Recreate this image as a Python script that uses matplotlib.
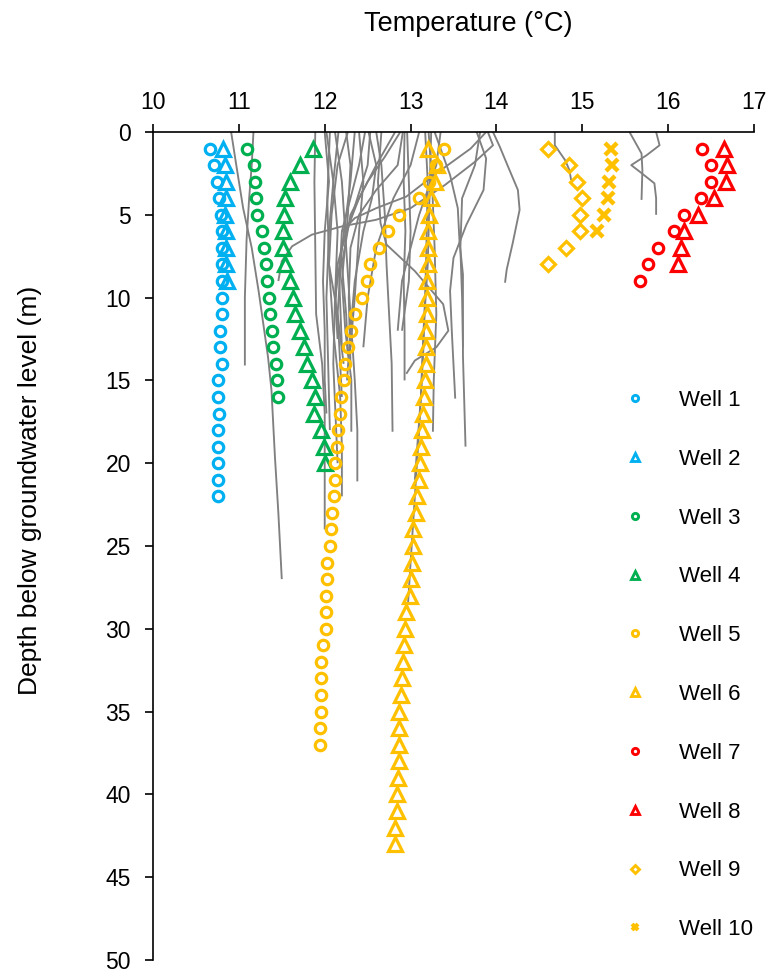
import matplotlib
matplotlib.use("Agg")
import matplotlib.pyplot as plt
from matplotlib.lines import Line2D

plt.rcParams['font.family'] = ['Liberation Sans', 'DejaVu Sans']

# ---------------- data ----------------
depth_m = [1, 2, 3, 4, 5, 6, 7, 8, 9, 10, 11, 12, 13, 14, 15, 16, 17, 18, 19, 20,
           21, 22, 23, 24, 25, 26, 27, 28, 29, 30, 31, 32, 33, 34, 35, 36, 37, 38,
           39, 40, 41, 42, 43]

w1_t = [10.66, 10.71, 10.75, 10.77, 10.79, 10.80, 10.80, 10.80, 10.80, 10.80, 10.80,
        10.78, 10.78, 10.80, 10.76, 10.76, 10.77, 10.76, 10.76, 10.76, 10.76, 10.76]
w2_t = [10.81, 10.84, 10.85, 10.85, 10.84, 10.85, 10.85, 10.85, 10.86]
w3_t = [11.10, 11.18, 11.19, 11.20, 11.21, 11.27, 11.29, 11.32, 11.33, 11.35, 11.36,
        11.39, 11.40, 11.43, 11.45, 11.46]
w4_t = [11.86, 11.71, 11.59, 11.54, 11.53, 11.51, 11.51, 11.54, 11.59, 11.63, 11.65,
        11.71, 11.76, 11.79, 11.85, 11.89, 11.87, 11.96, 11.99, 12.00]
w5_t = [13.39, 13.30, 13.22, 13.10, 12.86, 12.74, 12.63, 12.53, 12.49, 12.43,
        12.35, 12.31, 12.27, 12.24, 12.22, 12.19, 12.18, 12.16, 12.14, 12.12,
        12.12, 12.11, 12.08, 12.07, 12.06, 12.03, 12.03, 12.02, 12.01, 12.01,
        11.98, 11.96, 11.96, 11.96, 11.96, 11.94, 11.94]
w6_t = [13.20, 13.31, 13.28, 13.24, 13.21, 13.20, 13.20, 13.20, 13.19, 13.19,
        13.19, 13.18, 13.18, 13.18, 13.17, 13.16, 13.14, 13.13, 13.12, 13.11,
        13.10, 13.07, 13.06, 13.03, 13.03, 13.02, 13.00, 12.99, 12.95, 12.94,
        12.92, 12.91, 12.90, 12.89, 12.87, 12.87, 12.86, 12.86, 12.85, 12.84,
        12.84, 12.82, 12.82]
w7_t = [16.40, 16.50, 16.50, 16.38, 16.19, 16.07, 15.88, 15.77, 15.67]
w8_t = [16.65, 16.69, 16.67, 16.53, 16.35, 16.19, 16.15, 16.12]
w9_t = [14.60, 14.84, 14.94, 15.00, 14.97, 14.97, 14.81, 14.60]
w10_t = [15.33, 15.35, 15.31, 15.30, 15.25, 15.17]

well_names = ['Well 1', 'Well 2', 'Well 3', 'Well 4', 'Well 5', 'Well 6',
              'Well 7', 'Well 8', 'Well 9', 'Well 10']
well_temps = [w1_t, w2_t, w3_t, w4_t, w5_t, w6_t, w7_t, w8_t, w9_t, w10_t]

# grey background profiles: (temperature list, depth list)
grey_t = [
    [10.91, 10.97, 11.05, 11.15, 11.23, 11.34, 11.38, 11.42, 11.46, 11.50],
    [11.17, 11.15, 11.12, 11.09, 11.07, 11.07],
    [13.90, 13.96, 13.75, 13.40, 13.00, 12.60, 12.20, 11.85, 11.62, 11.50, 11.46],
    [13.96, 14.04, 14.12, 14.25, 14.27, 14.19, 14.12, 14.10],
    [14.68, 14.68, 14.80, 14.85, 14.87],
    [15.55, 15.69, 15.70, 15.69],
    [15.86, 15.90, 15.75, 15.57, 15.67, 15.84, 15.86, 15.86],
    [11.89, 11.88, 11.89, 11.90, 11.97, 12.00, 12.00, 12.00],
    [12.06, 12.03, 12.05, 12.10, 12.18, 12.20, 12.20],
    [12.12, 12.20, 12.25, 12.30, 12.35, 12.38, 12.38],
    [12.16, 12.10, 12.05, 12.02, 12.04, 12.06],
    [12.25, 12.30, 12.27, 12.20, 12.24, 12.31, 12.31],
    [12.47, 12.40, 12.30, 12.20, 12.17, 12.20],
    [12.53, 12.50, 12.35, 12.20, 12.12, 12.15],
    [12.60, 12.66, 12.70, 12.72, 12.75, 12.78, 12.79],
    [12.82, 12.60, 12.40, 12.25, 12.15, 12.12],
    [12.93, 12.92, 12.94, 12.92, 12.93, 12.93],
    [12.88, 12.70, 12.50, 12.30, 12.20, 12.25, 12.27],
    [12.66, 12.62, 12.65, 12.72, 13.05, 13.38, 13.44, 13.30, 13.05, 12.95],
    [13.17, 13.20, 13.18, 13.15, 13.10, 13.05, 13.00, 12.97],
    [13.21, 13.25, 13.28, 13.30, 13.27, 13.26],
    [13.28, 13.46, 13.55, 13.57, 13.61, 13.61, 13.64],
    [13.77, 13.88, 13.85, 13.65, 13.50, 13.46, 13.48, 13.52],
    [13.81, 13.75, 13.60, 13.58, 13.60, 13.61],
    [13.24, 13.22, 13.20, 13.15, 13.12, 13.05],
    [12.00, 12.05, 12.00, 11.98, 12.00, 12.00, 12.02],
    [12.27, 12.15, 12.08, 12.05, 12.15, 12.22],
    [12.51, 12.60, 12.55, 12.45, 12.35, 12.30, 12.26],
    [13.88, 13.70, 13.30, 12.95, 12.60, 12.35, 12.20],
    [12.91, 12.85, 12.60, 12.40, 12.30, 12.28, 12.30],
    [12.02, 12.10, 12.15, 12.12, 12.10, 12.15],
    [12.35, 12.30, 12.20, 12.15, 12.20],
    [12.40, 12.45, 12.40, 12.35, 12.30],
    [13.10, 13.00, 12.80, 12.60, 12.50, 12.45],
    [13.35, 13.30, 13.10, 12.90, 12.85],
    [12.96, 12.98, 13.00, 12.98, 12.90],
]
grey_d = [
    [0, 2, 4.6, 7, 9.6, 13.6, 15.6, 19.6, 23, 27],
    [0, 2, 4, 6.5, 10, 14.1],
    [0, 0.8, 1.8, 3.2, 4.6, 5.3, 5.7, 6.2, 6.9, 7.8, 9.0],
    [0, 0.9, 1.9, 3.5, 4.7, 6.7, 8.3, 9.1],
    [0, 0.8, 1.7, 2.3, 2.9],
    [0, 1.3, 2.3, 4.1],
    [0, 0.8, 1.4, 2.0, 2.4, 3.1, 4.0, 5.0],
    [0, 3, 7, 11, 14, 17, 20, 24],
    [0, 4, 8, 12, 16, 19, 22],
    [0, 3, 7, 11, 15, 18, 21.1],
    [0, 3, 6, 10, 14, 18],
    [0, 2, 5, 9, 12, 15, 18.1],
    [0, 2, 4, 6, 9, 13],
    [0, 2, 4.5, 7, 10, 12.5],
    [0, 2, 5, 8, 11, 14, 18.1],
    [0, 2, 4, 6, 8, 11],
    [0, 3, 6, 9, 12, 15],
    [0, 1.5, 3, 5, 8, 11, 13.5],
    [0, 3, 5.5, 6.8, 8.4, 10.4, 12, 13, 13.8, 14.6],
    [0, 3, 8, 13, 18, 22, 26, 28.5],
    [0, 3, 7, 11, 15, 18.1],
    [0, 2.6, 4.6, 6.6, 8.6, 13.5, 19],
    [0, 1.6, 3.5, 5.6, 7.6, 9.6, 12, 16.1],
    [0, 2, 4, 7, 10, 13],
    [0, 4, 8, 12, 16, 21],
    [0, 3, 6, 9, 12, 15, 17],
    [0, 2, 5, 8, 11, 14],
    [0, 2, 4, 6, 9, 12, 15],
    [0, 1, 2.5, 3.9, 4.6, 5.2, 6],
    [0, 2, 3.5, 5, 7, 10, 14],
    [0, 3, 6, 10, 14, 20],
    [0, 3, 7, 11, 16],
    [0, 3, 6, 10, 13],
    [0, 2, 4, 7, 10, 13],
    [0, 2, 5, 9, 12],
    [0, 3, 6, 9, 12],
]

x_ticks = [10, 11, 12, 13, 14, 15, 16, 17]
y_ticks = [0, 5, 10, 15, 20, 25, 30, 35, 40, 45, 50]

# ---------------- style ----------------
BLUE = '#00B0F0'
GREEN = '#00B050'
YELLOW = '#FFC000'
RED = '#FF0000'
GREY = '#808080'
styles = [
    (BLUE, 'o', 7.5), (BLUE, '^', 9.5),
    (GREEN, 'o', 7.5), (GREEN, '^', 9.5),
    (YELLOW, 'o', 7.5), (YELLOW, '^', 9.5),
    (RED, 'o', 7.5), (RED, '^', 9.5),
    (YELLOW, 'D', 7.0), (YELLOW, 'x', 8),
]

fig = plt.figure(figsize=(7.71, 9.75), dpi=100)
ax = fig.add_axes([153 / 771, 1 - 960 / 975, (754 - 153) / 771, (960 - 132) / 975])

for t, d in zip(grey_t, grey_d):
    ax.plot(t, d, color=GREY, lw=1.35, zorder=1, solid_capstyle='butt')

handles = []
for name, temps, (col, mk, ms) in zip(well_names, well_temps, styles):
    d = depth_m[:len(temps)]
    mew = 3.2 if mk == 'x' else 2.3
    ax.plot(temps, d, linestyle='none', marker=mk, ms=ms, mfc='none',
            mec=col, mew=mew, zorder=3)
    handles.append(Line2D([], [], linestyle='none', marker=mk,
                          ms=ms * 0.6, mfc='none', mec=col,
                          mew=mew * 0.9, label=name))

ax.set_xlim(10, 17)
ax.set_ylim(50, 0)
ax.xaxis.tick_top()
ax.set_xticks(x_ticks)
ax.set_yticks(y_ticks)
ax.tick_params(axis='both', direction='out', length=6, width=1.2,
               labelsize=16.5, color='black', pad=10)
ax.tick_params(axis='x', pad=7)
for s in ['right', 'bottom']:
    ax.spines[s].set_visible(False)
for s in ['left', 'top']:
    ax.spines[s].set_linewidth(1.2)

fig.text(468 / 771, 1 - 24 / 975, 'Temperature (°C)', ha='center', va='center',
         fontsize=19.5)
fig.text(30 / 771, 1 - 490 / 975, 'Depth below groundwater level (m)',
         ha='center', va='center', rotation=90, fontsize=19)

leg = fig.legend(handles=handles, loc='upper left',
                 bbox_to_anchor=(611 / 771, 1 - 379 / 975),
                 frameon=False, fontsize=16, labelspacing=1.70,
                 handletextpad=1.38, handlelength=1.2, borderpad=0)

fig.savefig('out.png', dpi=100)
